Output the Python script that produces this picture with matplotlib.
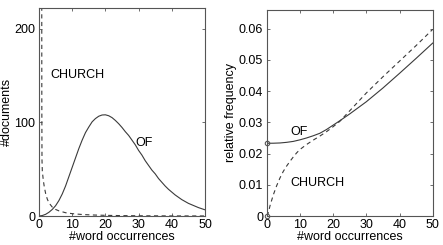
import matplotlib
matplotlib.use("Agg")
import matplotlib.pyplot as plt

# Values.
# Left: number of documents by word count
of_docs_x = list(range(0, 51))
of_docs = [0, 0.5, 1.8, 4, 7, 11, 16.5, 23.5, 32, 42, 52, 62, 72, 81, 89, 95,
           100.5, 104, 106.5, 107.8, 108, 107, 105, 102, 98.5, 94.5, 90, 86,
           81, 76, 70, 65, 59, 54, 49, 45, 40, 36, 32, 28.5, 25.5, 22.5, 20,
           17.5, 15.5, 13.5, 12, 10.5, 9, 7.8, 6.6]
church_docs_x = [0.8, 0.85, 0.9, 1.0, 1.3, 1.6, 2.0, 2.5, 3, 4, 5, 6, 8, 10,
                 13, 16, 20, 25, 30, 40, 50]
church_docs = [400, 120, 60, 48, 38, 31, 24, 18, 14, 9.5, 7, 5.5, 3.5, 2.5,
               1.6, 1.1, 0.7, 0.4, 0.25, 0.1, 0.05]

# Right: relative frequency
of_freq_x = [0, 2, 4, 6, 8, 10, 12, 14, 16, 18, 20, 22, 25, 30, 35, 40, 45, 50]
of_freq = [0.0233, 0.02332, 0.0234, 0.0236, 0.0239, 0.0244, 0.0250, 0.0257,
           0.0265, 0.0277, 0.0291, 0.0305, 0.0327, 0.0366, 0.0410, 0.0457,
           0.0505, 0.0554]
church_freq_x = [0, 0.5, 1, 2, 3, 4, 5, 6, 7, 8, 9, 10, 12, 14, 16, 18, 20,
                 22, 25, 30, 35, 40, 45, 50]
church_freq = [0, 0.0010, 0.0033, 0.0068, 0.0097, 0.0122, 0.0143, 0.0160,
               0.0175, 0.0189, 0.0202, 0.0213, 0.0229, 0.0243, 0.0256,
               0.0270, 0.0286, 0.0303, 0.0337, 0.0394, 0.0446, 0.0496,
               0.0546, 0.0598]
x_ticks = [0, 10, 20, 30, 40, 50]
freq_ticks = [0, 0.01, 0.02, 0.03, 0.04, 0.05, 0.06]
freq_labels = ["0", "0.01", "0.02", "0.03", "0.04", "0.05", "0.06"]

plt.rcParams["font.family"] = ["Liberation Sans", "DejaVu Sans"]
plt.rcParams["font.size"] = 9
plt.rcParams["lines.scale_dashes"] = False

line_col = "#3a3a3a"
frame_col = "#555555"

fig = plt.figure(figsize=(4.43, 2.45), dpi=100)
ax1 = fig.add_axes([39 / 443, 29 / 245, 166 / 443, 208 / 245])
ax2 = fig.add_axes([266.7 / 443, 29 / 245, 166 / 443, 206 / 245])

for ax in (ax1, ax2):
    for s in ax.spines.values():
        s.set_color(frame_col)
        s.set_linewidth(0.8)
    ax.tick_params(direction="in", top=True, right=True, length=2.5,
                   width=0.6, color=frame_col, pad=2.5, labelsize=9)
    ax.set_xlim(0, 50)
    ax.set_xticks(x_ticks)
    ax.set_xlabel("#word occurrences", labelpad=0)

ax1.plot(of_docs_x, of_docs, color=line_col, lw=0.8)
ax1.plot(church_docs_x, church_docs, color=line_col, lw=0.8, dashes=(3, 2.5))
ax1.set_ylim(0, 222)
ax1.set_yticks([0, 100, 200])
ax1.set_ylabel("#documents", labelpad=1)
ax1.text(3.3, 150, "CHURCH", va="center", ha="left")
ax1.text(28.9, 78, "OF", va="center", ha="left")

ax2.plot(of_freq_x, of_freq, color=line_col, lw=0.8)
ax2.plot(church_freq_x, church_freq, color=line_col, lw=0.8, dashes=(3, 2.5))
ax2.plot([0, 0], [of_freq[0], church_freq[0]], ls="none", marker="o",
         ms=3.2, mfc="none", mec="#555555", mew=0.8, clip_on=False)
ax2.set_ylim(0, 0.066)
ax2.set_yticks(freq_ticks)
ax2.set_yticklabels(freq_labels)
ax2.set_ylabel("relative frequency", labelpad=1)
ax2.text(7.1, 0.0268, "OF", va="center", ha="left")
ax2.text(7.0, 0.0107, "CHURCH", va="center", ha="left")

fig.savefig("out.png", dpi=100)
